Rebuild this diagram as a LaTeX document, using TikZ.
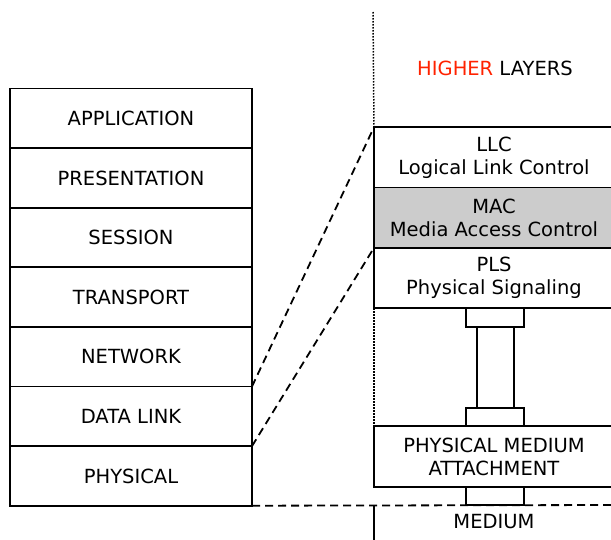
\documentclass[tikz,border=0pt]{standalone}
\usepackage{fontspec}
\setmainfont{DejaVu Sans}
\usetikzlibrary{positioning}
\definecolor{hired}{RGB}{255,34,0}
\definecolor{macgray}{RGB}{204,204,204}

\begin{document}
\begin{tikzpicture}[
  x=1pt, y=-1pt,
  font=\fontsize{19.5}{23}\selectfont,
  thick line/.style={line width=1.8pt},
  layer/.style={draw, thick line, outer sep=0pt, inner sep=0pt, minimum width=242pt, minimum height=59.6pt},
  sub/.style={draw, thick line, outer sep=0pt, inner sep=0pt, align=center, minimum width=240pt, minimum height=60.3pt},
  conn/.style={draw, thick line, outer sep=0pt, inner sep=0pt, minimum width=58pt, minimum height=18.5pt},
  link/.style={thick line, dash pattern=on 8pt off 5pt},
  guide/.style={line width=1.5pt, dash pattern=on 1.5pt off 1.5pt}
]
\useasboundingbox (0,0) rectangle (611,539);

% OSI stack
\node[layer] (app) at (131,118.3) {APPLICATION};
\node[layer, below=0pt of app] (pres) {PRESENTATION};
\node[layer, below=0pt of pres] (sess) {SESSION};
\node[layer, below=0pt of sess] (trans) {TRANSPORT};
\node[layer, below=0pt of trans] (net) {NETWORK};
\node[layer, below=0pt of net] (dl) {DATA LINK};
\node[layer, below=0pt of dl] (phys) {PHYSICAL};

% IEEE 802 sublayers
\node (higher) at (495,68) {\textcolor{hired}{HIGHER} LAYERS};
\node[sub] (llc) at (494,157.3) {LLC\\Logical Link Control};
\node[sub, fill=macgray, below=0pt of llc] (mac) {MAC\\Media Access Control};
\node[sub, below=0pt of mac] (pls) {PLS\\Physical Signaling};
\node[conn] (ctop) at (495,317.5) {};
\node[conn, minimum width=37pt, minimum height=81pt] (pillar) at (495.5,367.5) {};
\node[conn] (cbot) at (495,417) {};
\node[sub, minimum height=61pt] (pma) at (494,456.5) {PHYSICAL MEDIUM\\ATTACHMENT};
\node[conn] (cmed) at (495,496) {};
\node (medium) at (494,522) {MEDIUM};
\coordinate (medtl) at (374,505);
\coordinate (medbl) at (374,545);
\coordinate (medtr) at (614,505);
\coordinate (top) at (373,12);

\draw[thick line] (medtl) -- (medbl);
\draw[guide] (top) -- (llc.north west);
\draw[guide] (pls.south west) -- (pma.north west);
\draw[link] (net.south east) -- (llc.north west);
\draw[link] (dl.south east) -- (pls.north west);
\draw[link] (phys.south east) -- (medtr);
\end{tikzpicture}
\end{document}
